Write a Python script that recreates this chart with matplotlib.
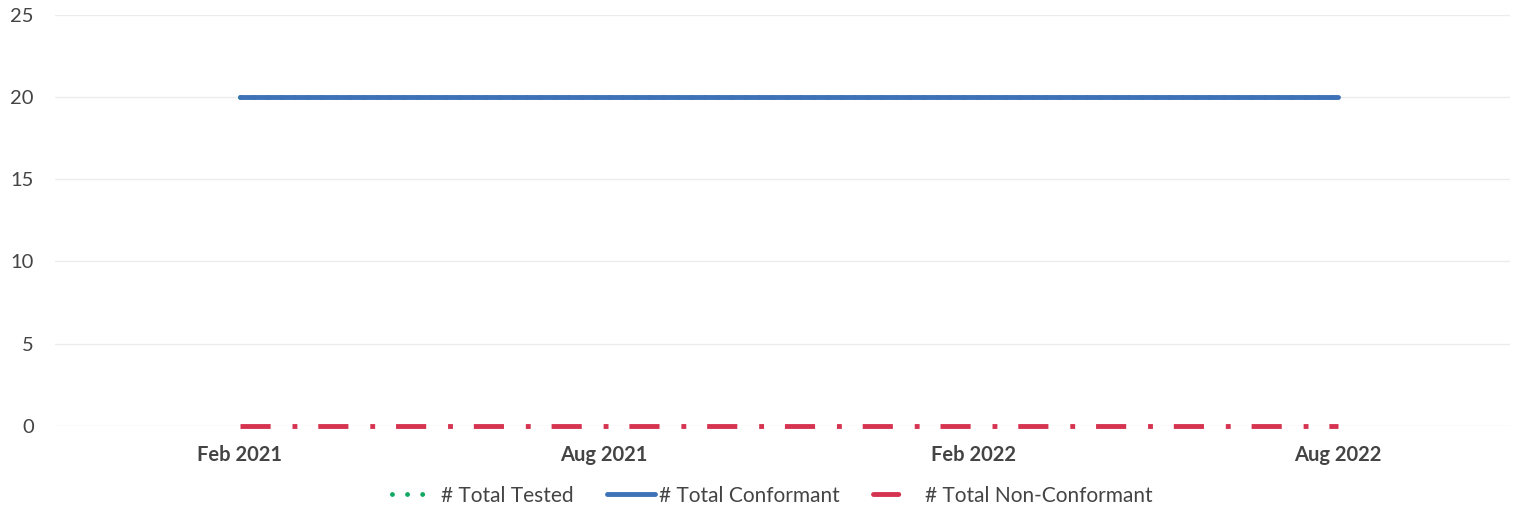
import numpy as np
import pandas as pd
import matplotlib.pyplot as plt
from matplotlib.lines import Line2D

# monthly values, Feb 2021 .. Aug 2022
months = pd.date_range("2021-02-01", "2022-08-01", freq="MS")
total_tested = [20] * len(months)
total_conformant = [20] * len(months)
total_non_conformant = [0] * len(months)

tick_dates = pd.to_datetime(["2021-02-01", "2021-08-01", "2022-02-01", "2022-08-01"])
tick_labels = ["Feb 2021", "Aug 2021", "Feb 2022", "Aug 2022"]
series_labels = ["# Total Tested", "# Total Conformant", "# Total Non-Conformant"]

green, blue, red = "#11a862", "#3d72b8", "#d5334f"

plt.rcParams['font.family'] = ['Lato', 'DejaVu Sans']

fig = plt.figure(figsize=(15.15, 5.18), dpi=100)
ax = fig.add_axes([0.036, 0.178, 0.961, 0.793])

lw = 3.5
ax.plot(months, total_tested, color=green, lw=lw, linestyle=(0, (0.01, 2.8)),
        dash_capstyle="round", zorder=2)
ax.plot(months, total_conformant, color=blue, lw=lw, solid_capstyle="round", zorder=3)
ax.plot(months, total_non_conformant, color=red, lw=lw, clip_on=False,
        linestyle=(0, (6.2, 4.5, 1.0, 4.3)), dash_capstyle="butt", zorder=3)

ax.set_ylim(0, 25)
ax.set_yticks([0, 5, 10, 15, 20, 25])
ax.set_xlim(pd.Timestamp("2020-11-01"), pd.Timestamp("2022-10-26"))
ax.set_xticks(tick_dates)
ax.set_xticklabels(tick_labels, fontweight="bold", fontsize=14.5, color="#444444")
ax.tick_params(axis="x", length=0, pad=14)
ax.tick_params(axis="y", length=0, pad=15, labelsize=14.5, labelcolor="#444444")

ax.grid(axis="y", color="#ececec", lw=1)
ax.set_axisbelow(True)
for s in ax.spines.values():
    s.set_visible(False)

handles = [
    Line2D([], [], color=green, lw=lw, dash_capstyle="round",
           linestyle=(-0.6, (0.01, 3.1, 0.01, 3.1, 0.01, 20))),
    Line2D([], [], color=blue, lw=lw, solid_capstyle="round"),
    Line2D([], [], color=red, lw=lw, linestyle=(0, (5.2, 20)), dash_capstyle="round"),
]
leg = ax.legend(handles, series_labels, loc="upper center", bbox_to_anchor=(0.492, -0.10),
                ncol=3, frameon=False, fontsize=15, handlelength=2.3,
                columnspacing=1.6, handletextpad=0.2)
for t in leg.get_texts():
    t.set_color("#444444")

fig.savefig("out.png", dpi=100)
